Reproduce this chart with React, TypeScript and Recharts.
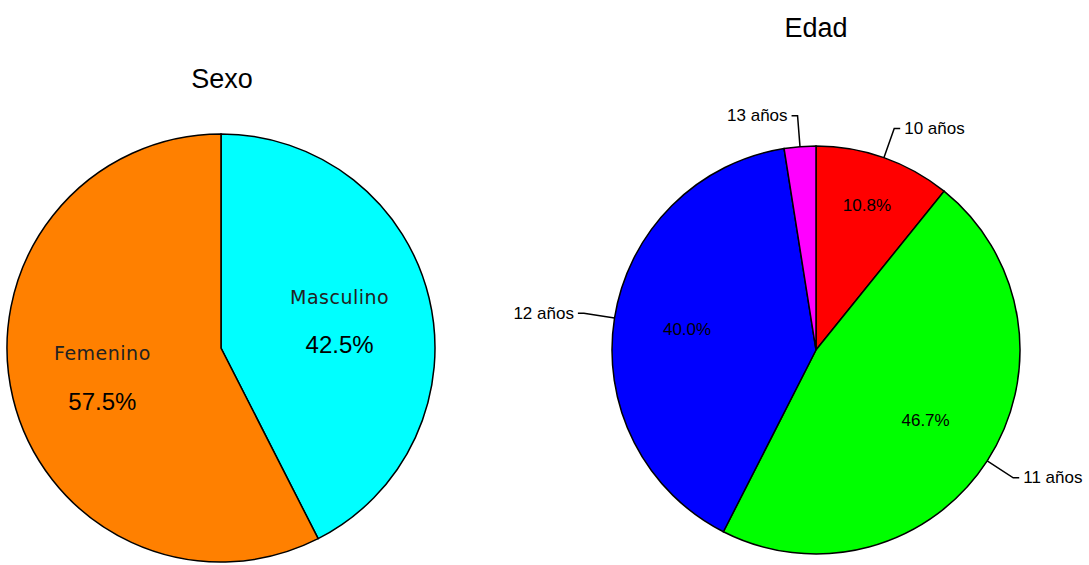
import React from 'react';
import { PieChart, Pie, Cell } from 'recharts';

const sexoLabels = ['Masculino', 'Femenino'];
const sexoValues = [42.5, 57.5];
const sexoColors = ['#00FFFF', '#FF8000'];

const edadLabels = ['10 años', '11 años', '12 años', '13 años'];
const edadValues = [10.8, 46.7, 40.0, 2.5];
const edadColors = ['#FF0000', '#00FF00', '#0000FF', '#FF00FF'];

const sexoData = sexoLabels.map((name, i) => ({ name, value: sexoValues[i] }));
const edadData = edadLabels.map((name, i) => ({ name, value: edadValues[i] }));

const RADIAN = Math.PI / 180;
const fmt = (p: number) => `${(p * 100).toFixed(1)}%`;

const sexoLabel = (props: any) => {
  const { cx, cy, midAngle, outerRadius, percent, name } = props;
  const r = outerRadius * 0.57;
  const x = cx + r * Math.cos(-midAngle * RADIAN);
  const y = cy + r * Math.sin(-midAngle * RADIAN);
  return (
    <g>
      <text x={x} y={y - 23} textAnchor="middle" dominantBaseline="central"
        fontFamily="DejaVu Sans" fontSize={19} letterSpacing={0.5} fill="#222">
        {name}
      </text>
      <text x={x} y={y + 25} textAnchor="middle" dominantBaseline="central"
        fontFamily="Liberation Sans, Arial" fontSize={24} fill="#000">
        {fmt(percent)}
      </text>
    </g>
  );
};

const edadLabel = (props: any) => {
  const { cx, cy, midAngle, outerRadius, percent, name } = props;
  const cos = Math.cos(-midAngle * RADIAN);
  const sin = Math.sin(-midAngle * RADIAN);
  const ri = outerRadius * (percent < 0.2 ? 0.75 : 0.64);
  const sx = cx + outerRadius * cos;
  const sy = cy + outerRadius * sin;
  const mx = cx + (outerRadius + 31) * cos;
  const my = cy + (outerRadius + 31) * sin;
  const right = cos >= 0;
  const ex = mx + (right ? 6 : -6);
  return (
    <g>
      {percent >= 0.05 && (
        <text x={cx + ri * cos} y={cy + ri * sin} textAnchor="middle" dominantBaseline="central"
          fontFamily="Liberation Sans, Arial" fontSize={17} fill="#000">
          {fmt(percent)}
        </text>
      )}
      <polyline points={`${sx},${sy} ${mx},${my} ${ex},${my}`} fill="none" stroke="#000" strokeWidth={1.5} />
      <text x={ex + (right ? 4 : -4)} y={my} textAnchor={right ? 'start' : 'end'} dominantBaseline="central"
        fontFamily="Liberation Sans, Arial" fontSize={17} fill="#000">
        {name}
      </text>
    </g>
  );
};

const titleStyle: React.CSSProperties = {
  position: 'absolute',
  fontFamily: 'Liberation Sans, Arial, sans-serif',
  fontSize: 27,
  color: '#000',
  transform: 'translateX(-50%)',
  whiteSpace: 'nowrap',
};

export default function App() {
  return (
    <div style={{ position: 'absolute', left: 0, top: 0, width: 1089, height: 565, background: '#fff' }}>
      <div style={{ ...titleStyle, left: 222, top: 64 }}>Sexo</div>
      <div style={{ ...titleStyle, left: 816, top: 13 }}>Edad</div>
      <PieChart width={1089} height={565} margin={{ top: 0, right: 0, bottom: 0, left: 0 }}>
        <Pie
          data={sexoData}
          dataKey="value"
          nameKey="name"
          cx={221}
          cy={348}
          outerRadius={214}
          startAngle={90}
          endAngle={-270}
          stroke="#000"
          strokeWidth={1.5}
          label={sexoLabel}
          labelLine={false}
          isAnimationActive={false}
        >
          {sexoData.map((d, i) => (
            <Cell key={d.name} fill={sexoColors[i]} />
          ))}
        </Pie>
        <Pie
          data={edadData}
          dataKey="value"
          nameKey="name"
          cx={816}
          cy={350}
          outerRadius={204}
          startAngle={90}
          endAngle={-270}
          stroke="#000"
          strokeWidth={1.5}
          label={edadLabel}
          labelLine={false}
          isAnimationActive={false}
        >
          {edadData.map((d, i) => (
            <Cell key={d.name} fill={edadColors[i]} />
          ))}
        </Pie>
      </PieChart>
    </div>
  );
}
